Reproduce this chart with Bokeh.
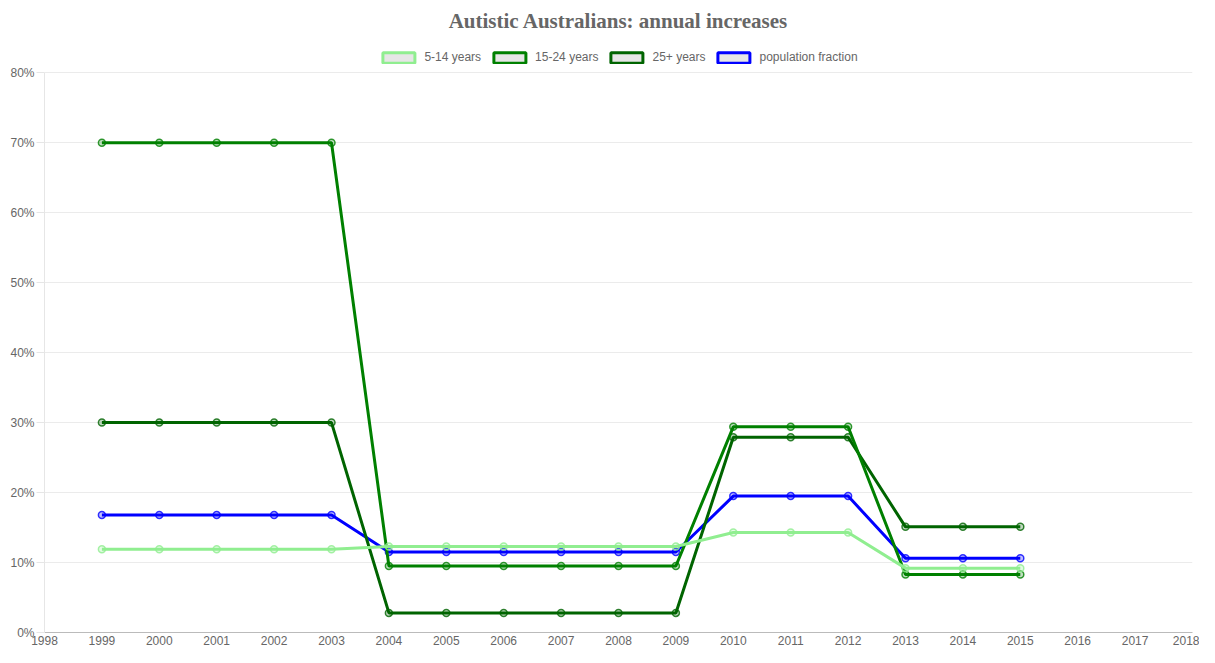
from bokeh.plotting import figure
from bokeh.models import (FixedTicker, PrintfTickFormatter, Range1d, Legend, LegendItem,
                          Title, ColumnDataSource, BasicTickFormatter)
from bokeh.embed import file_html
from bokeh.resources import INLINE

years = list(range(1999, 2016))
age_5_14 = [11.9]*5 + [12.3]*6 + [14.3]*3 + [9.2]*3
age_15_24 = [70.0]*5 + [9.5]*6 + [29.4]*3 + [8.3]*3
age_25_plus = [30.0]*5 + [2.8]*6 + [27.9]*3 + [15.1]*3
pop_fraction = [16.8]*5 + [11.5]*6 + [19.5]*3 + [10.6]*3

series_names = ["5-14 years", "15-24 years", "25+ years", "population fraction"]
series_values = [age_5_14, age_15_24, age_25_plus, pop_fraction]
series_colors = ["#90EE90", "#008000", "#006400", "#0000FF"]

x_ticks = list(range(1998, 2019))
y_ticks = list(range(0, 81, 10))

p = figure(width=1199, height=647, output_backend="svg", toolbar_location=None,
           x_range=Range1d(1998, 2018), y_range=Range1d(0, 84.9),
           min_border_left=44, min_border_right=7, min_border_top=36, min_border_bottom=0)
p.outline_line_color = None
p.background_fill_color = "white"

# draw in reverse so first series is on top
for name, vals, col in reversed(list(zip(series_names, series_values, series_colors))):
    src = ColumnDataSource(dict(x=years, y=vals))
    p.line("x", "y", source=src, line_color=col, line_width=3)
    p.scatter("x", "y", source=src, size=7, line_color=col, line_width=1.5,
              fill_color=col, fill_alpha=0.25, line_alpha=0.8)

items = []
for name, col in zip(series_names, series_colors):
    r = p.quad(left=[-10], right=[-9], top=[-10], bottom=[-11], fill_color="#e6e6e6",
               line_color=col, line_width=3)
    items.append(LegendItem(label=name, renderers=[r]))

legend = Legend(items=items, orientation="horizontal", location="top_center",
                glyph_width=40, glyph_height=13, label_text_font="Liberation Sans",
                label_text_font_size="12px", label_text_color="#666666",
                spacing=8, label_standoff=6, padding=4, margin=8,
                border_line_alpha=0, background_fill_alpha=0)
p.add_layout(legend, "center")

p.add_layout(Title(text="Autistic Australians: annual increases", align="center",
                   text_font="Liberation Serif", text_font_size="21px",
                   text_font_style="bold", text_color="#666666",
                   standoff=12), "above")

p.xaxis.ticker = FixedTicker(ticks=x_ticks)
p.xaxis.formatter = BasicTickFormatter(use_scientific=False)
p.yaxis.ticker = FixedTicker(ticks=y_ticks)
p.yaxis.formatter = PrintfTickFormatter(format="%d%%")
p.yaxis.bounds = (0, 80)

for ax in (p.xaxis, p.yaxis):
    ax.major_label_text_font = "Liberation Sans"
    ax.major_label_text_font_size = "12px"
    ax.major_label_text_color = "#666666"
    ax.minor_tick_line_color = None
    ax.major_tick_in = 0

p.xaxis.axis_line_color = "#bbbbbb"
p.xaxis.major_tick_out = 0
p.xaxis.major_label_standoff = 3
p.yaxis.axis_line_color = "#e6e6e6"
p.yaxis.major_tick_out = 8
p.yaxis.major_tick_line_color = "#e6e6e6"
p.yaxis.major_label_standoff = 2

p.xgrid.grid_line_color = None
p.ygrid.grid_line_color = "#ebebeb"

open("out.html", "w").write(file_html(p, INLINE))
